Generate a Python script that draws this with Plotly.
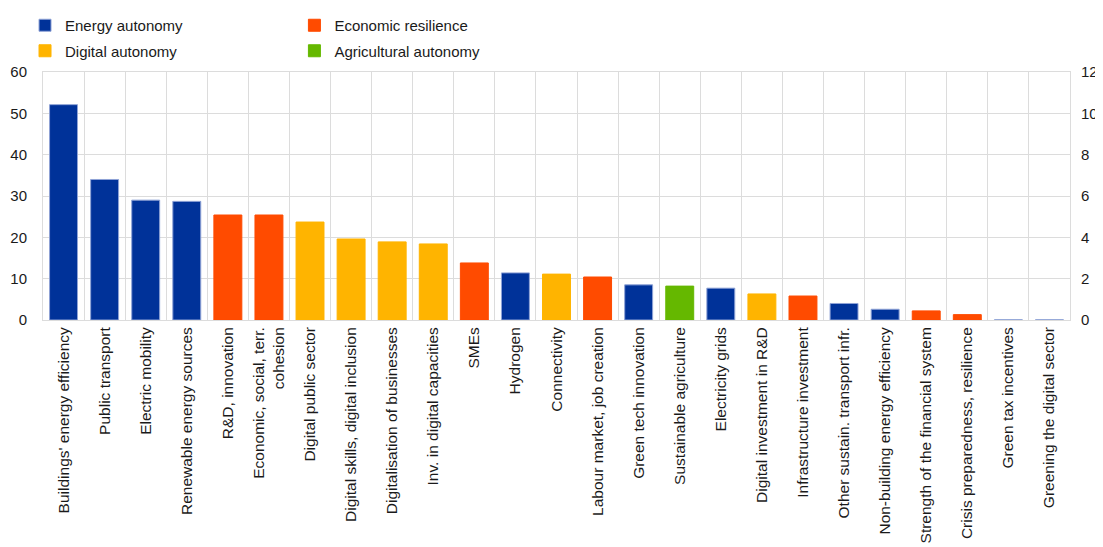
import plotly.graph_objects as go

categories = [
    "Buildings' energy efficiency", "Public transport", "Electric mobility",
    "Renewable energy sources", "R&D, innovation", "Economic, social, terr.<br>cohesion",
    "Digital public sector", "Digital skills, digital inclusion", "Digitalisation of businesses",
    "Inv. in digital capacities", "SMEs", "Hydrogen", "Connectivity",
    "Labour market, job creation", "Green tech innovation", "Sustainable agriculture",
    "Electricity grids", "Digital investment in R&D", "Infrastructure investment",
    "Other sustain. transport infr.", "Non-building energy efficiency",
    "Strength of the financial system", "Crisis preparedness, resilience",
    "Green tax incentives", "Greening the digital sector",
]
values = [52.1, 34.0, 29.0, 28.7, 25.4, 25.4, 23.7, 19.6, 18.9, 18.4, 13.8, 11.4, 11.1,
          10.4, 8.5, 8.2, 7.7, 6.3, 5.8, 4.0, 2.6, 2.2, 1.3, 0.05, 0.05]
groups = ["Energy", "Energy", "Energy", "Energy", "Economic", "Economic", "Digital", "Digital",
          "Digital", "Digital", "Economic", "Energy", "Digital", "Economic", "Energy",
          "Agricultural", "Energy", "Digital", "Economic", "Energy", "Energy", "Economic",
          "Economic", "Energy", "Energy"]

group_names = {
    "Energy": "Energy autonomy",
    "Economic": "Economic resilience",
    "Digital": "Digital autonomy",
    "Agricultural": "Agricultural autonomy",
}
group_colors = {
    "Energy": "#003299",
    "Economic": "#FF4B00",
    "Digital": "#FFB400",
    "Agricultural": "#65B800",
}
group_legend = {"Energy": "legend", "Digital": "legend", "Economic": "legend2", "Agricultural": "legend2"}
group_order = ["Energy", "Digital", "Economic", "Agricultural"]

fig = go.Figure()
for g in group_order:
    xs = [c for c, gg in zip(categories, groups) if gg == g]
    ys = [v for v, gg in zip(values, groups) if gg == g]
    fig.add_trace(go.Bar(
        x=xs, y=ys, name=group_names[g], legendgroup=g,
        marker=dict(color=group_colors[g],
                    line=dict(color="#8fa3d6" if g == "Energy" else group_colors[g], width=1)),
        legend=group_legend[g],
    ))

# anchor trace so that the right-hand scale is drawn
fig.add_trace(go.Scatter(x=[categories[0]], y=[None], yaxis="y2", mode="markers",
                         showlegend=False, hoverinfo="skip"))

font_family = "Liberation Sans, Arial, sans-serif"
grid = "#dcdcdc"

fig.update_layout(
    width=1095, height=539,
    margin=dict(l=35, r=33, t=64, b=227, autoexpand=False),
    paper_bgcolor="white", plot_bgcolor="white",
    barmode="overlay", bargap=0.32,
    font=dict(family=font_family, size=15, color="#1a1a1a"),
    showlegend=True,
    legend=dict(x=-0.0175, y=1.254, xanchor="left", yanchor="top", orientation="v",
                font=dict(size=15), bgcolor="rgba(0,0,0,0)", tracegroupgap=3,
                traceorder="grouped"),
    legend2=dict(x=0.2448, y=1.254, xanchor="left", yanchor="top", orientation="v",
                 font=dict(size=15), bgcolor="rgba(0,0,0,0)", tracegroupgap=3,
                 traceorder="grouped"),
    xaxis=dict(
        type="category", categoryorder="array", categoryarray=categories,
        tickson="boundaries", showgrid=True, gridcolor=grid, gridwidth=1,
        showline=True, linecolor=grid, mirror=True, tickangle=-90, ticks="",
        tickfont=dict(size=15.5), range=[-0.5, len(categories) - 0.5], automargin=False,
    ),
    yaxis=dict(
        range=[0, 60], dtick=10, showgrid=True, gridcolor=grid, gridwidth=1,
        showline=True, linecolor=grid, mirror=True, ticks="", zeroline=False,
        tickfont=dict(size=15), automargin=False, ticklabelstandoff=12,
    ),
    yaxis2=dict(
        range=[0, 12], dtick=2, overlaying="y", side="right", showgrid=False,
        ticks="", zeroline=False, tickfont=dict(size=15), automargin=False,
        ticklabelstandoff=10,
    ),
)

fig.write_html("out.html")
